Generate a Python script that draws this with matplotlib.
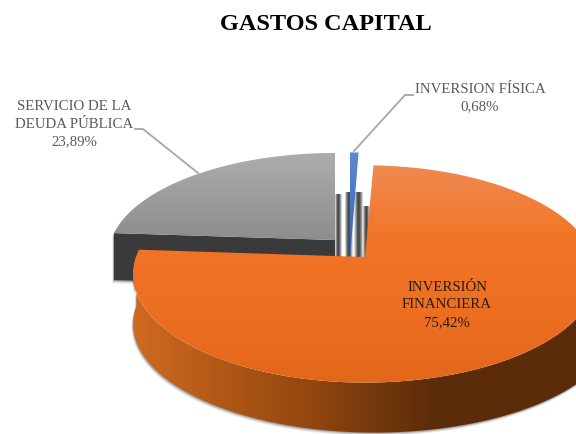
import numpy as np
import matplotlib
matplotlib.use("Agg")
import matplotlib.pyplot as plt
from matplotlib.colors import LinearSegmentedColormap
from matplotlib.patches import Polygon

labels = ["INVERSION FÍSICA", "INVERSIÓN\nFINANCIERA", "SERVICIO DE LA\nDEUDA PÚBLICA"]
values = [0.68, 75.42, 23.89]
pct_text = ["0,68%", "75,42%", "23,89%"]

plt.rcParams["font.family"] = ["Liberation Serif", "DejaVu Serif"]

fig = plt.figure(figsize=(5.76, 4.34), dpi=100)
ax = fig.add_axes([0, 0, 1, 1])
ax.set_xlim(0, 576)
ax.set_ylim(434, 0)
ax.axis("off")

# slice angles, clockwise from the top
edges = np.concatenate([[0], np.cumsum(values)]) / sum(values) * 2 * np.pi
K = 0.156  # fake perspective, far side looks smaller


def rim(apex, a, b, t0, t1, n=200):
    t = np.linspace(t0, t1, n)
    u, v = np.sin(t), np.cos(t)
    w = 1 + K * v
    return np.column_stack([apex[0] + a * u / w, apex[1] - b * v / w])


def grad(pts, colors, horizontal=False, zorder=1):
    cmap = LinearSegmentedColormap.from_list("g", colors)
    g = np.linspace(0, 1, 256)
    g = g.reshape(1, -1) if horizontal else g.reshape(-1, 1)
    x0, y0 = pts.min(axis=0)
    x1, y1 = pts.max(axis=0)
    im = ax.imshow(g, cmap=cmap, extent=(x0, x1, y1, y0), aspect="auto", zorder=zorder, interpolation="bilinear")
    patch = Polygon(pts, closed=True, transform=ax.transData, fc="none", ec="none")
    ax.add_patch(patch)
    im.set_clip_path(patch)


def soft_shadow(pts, zorder):
    for grow, al in zip([4, 3, 2, 1], [0.08, 0.12, 0.18, 0.25]):
        ax.add_patch(Polygon(pts + [-grow * 0.4, grow * 0.8], closed=True, fc="#404040", ec="none", alpha=al, zorder=zorder))


def stub(apex, dx, width, height, zorder, flip=False):
    # inner cut wall seen almost edge on
    x = apex[0] + dx
    pts = np.array([[x, apex[1] - height], [x + width, apex[1] - height], [x + width, apex[1] + 20], [x, apex[1] + 20]])
    colors = ["#f4f4f4", "#8a8a8a", "#4a4a4a", "#4a4a4a", "#a8a8a8", "#f4f4f4"]
    grad(pts, colors[::-1] if flip else colors, horizontal=True, zorder=zorder)


# grey slice
apex_g = (335, 240)
top_g = rim(apex_g, 224, 100.6, edges[2], edges[3])
left_g = top_g[0]
depth_g = 47
wall_g = np.array([left_g, apex_g, [apex_g[0], apex_g[1] + depth_g], left_g + [0, depth_g]])
soft_shadow(wall_g, 1)
ax.add_patch(Polygon(wall_g, closed=True, fc="#3a3a3a", ec="none", zorder=2))
grad(np.vstack([[apex_g], top_g]), ["#adadad", "#8d8d8d"], zorder=3)

# walls seen in the gap between the slices
stub(apex_g, 0, 7, 46, 2)

# blue slice
apex_b = (350, 258)
stub(apex_b, -5, 8, 66, 2)
stub(apex_b, 4, 9, 66, 2, flip=True)
top_b = rim(apex_b, 232, 122, edges[0], edges[1], n=20)
grad(np.vstack([[apex_b], top_b]), ["#5f88cf", "#2f62be"], zorder=3)

# orange slice
apex_o = (365, 257)
stub(apex_o, -2, 7, 51, 2)
top_o = rim(apex_o, 229, 106, edges[1], edges[2], n=400)
front = top_o[top_o[:, 1] > 255]
# lower edge drifts right as it comes round the front
drift = 20 * (front[:, 0] - front[:, 0].min()) / (front[:, 0].max() - front[:, 0].min())
lower = np.column_stack([front[:, 0] + drift, front[:, 1] + 50])
wall_o = np.vstack([front, lower[::-1]])
soft_shadow(wall_o, 4)
wall_colors = [(0, "#cf6a20"), (0.35, "#95480f"), (0.62, "#5c2c0a"), (1, "#5c2c0a")]
grad(wall_o, wall_colors, horizontal=True, zorder=5)
grad(np.vstack([[apex_o], top_o]), ["#ef8a52", "#f27527", "#ed7022", "#e3671a"], zorder=6)
ax.set_xlim(0, 576)
ax.set_ylim(434, 0)

# leader lines
ax.plot([135, 143, 198], [129, 129, 173], color="#a6a6a6", lw=1.3, zorder=7)
ax.plot([413, 405, 354], [95, 95, 151], color="#a6a6a6", lw=1.3, zorder=7)

# text
ax.text(326, 24, "GASTOS CAPITAL", ha="center", va="center", fontsize=17.5, fontweight="bold", color="black", zorder=8)
ax.text(480, 98, labels[0] + "\n" + pct_text[0], ha="center", va="center", fontsize=10.7, color="#595959", linespacing=1.45, zorder=8)
ax.text(74, 124, labels[2] + "\n" + pct_text[2], ha="center", va="center", fontsize=10.7, color="#595959", linespacing=1.45, zorder=8)
ax.text(447, 305, labels[1] + "\n" + pct_text[1], ha="center", va="center", fontsize=10.7, color="#2b1a0c", linespacing=1.45, zorder=8)

fig.savefig("out.png", dpi=100)
